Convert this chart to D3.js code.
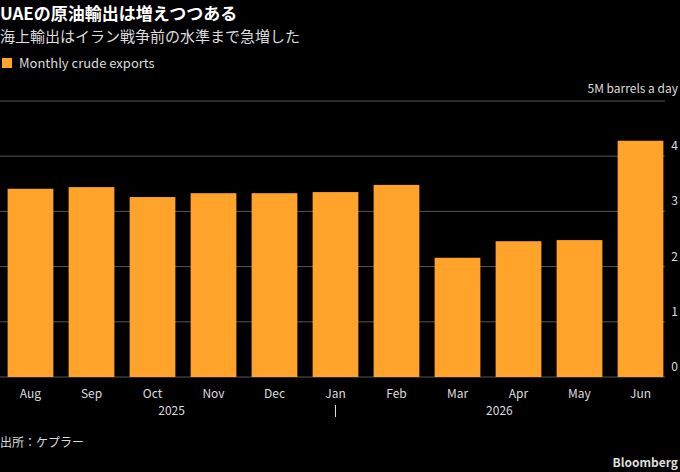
<!DOCTYPE html><html><head><meta charset="utf-8">
<script src="https://cdn.jsdelivr.net/npm/d3@7"></script>
<style>body{margin:0;background:#000}text{font-family:"Noto Sans CJK JP","Noto Sans",sans-serif}</style></head><body>
<svg id="c" width="680" height="472"></svg>
<script>
const months=["Aug","Sep","Oct","Nov","Dec","Jan","Feb","Mar","Apr","May","Jun"];
const exportsM=[3.41,3.44,3.26,3.33,3.33,3.35,3.48,2.16,2.46,2.48,4.28];
const yTicks=[0,1,2,3,4];
const years=["2025","2026"];
const svg=d3.select("#c");
svg.append("rect").attr("width",680).attr("height",472).attr("fill","#000");
const x=d3.scaleBand().domain(months).range([0,671]).paddingInner(0.25).paddingOuter(0.125);
const y=d3.scaleLinear().domain([0,5]).range([377,101]);
svg.append("g").selectAll("line").data([...yTicks,5]).join("line")
 .attr("x1",0).attr("x2",665).attr("y1",d=>y(d)).attr("y2",d=>y(d)).attr("stroke","#555").attr("stroke-width",1);
svg.append("g").selectAll("rect").data(exportsM).join("rect")
 .attr("x",(d,i)=>x(months[i])).attr("width",x.bandwidth()).attr("y",d=>y(d)).attr("height",d=>y(0)-y(d)).attr("fill","#ffa32b");
svg.append("g").selectAll("text").data(yTicks).join("text")
 .attr("x",678).attr("y",d=>y(d)-6).attr("text-anchor","end").attr("fill","#ddd").attr("font-size",12).text(d=>d);
svg.append("text").attr("x",678).attr("y",93).attr("text-anchor","end").attr("fill","#ddd").attr("font-size",12).text("5M barrels a day");
svg.append("g").selectAll("text").data(months).join("text")
 .attr("x",d=>x(d)+x.bandwidth()/2).attr("y",398).attr("text-anchor","middle").attr("fill","#ddd").attr("font-size",12).text(d=>d);
const janX=x("Jan")+x.bandwidth()/2;
const yearPos=[(x("Aug")+janX)/2,(janX+x("Jun")+x.bandwidth())/2];
svg.append("g").selectAll("text").data(years).join("text")
 .attr("x",(d,i)=>yearPos[i]).attr("y",415).attr("text-anchor","middle").attr("fill","#ddd").attr("font-size",12).text(d=>d);
svg.append("line").attr("x1",janX).attr("x2",janX).attr("y1",405).attr("y2",417).attr("stroke","#ddd");
svg.append("text").attr("x",0).attr("y",20).attr("fill","#fff").attr("font-size",17).attr("font-weight","bold").text("UAEの原油輸出は増えつつある");
svg.append("text").attr("x",0).attr("y",42).attr("fill","#ddd").attr("font-size",15).text("海上輸出はイラン戦争前の水準まで急増した");
svg.append("rect").attr("x",2).attr("y",58).attr("width",10).attr("height",10).attr("fill","#ffa32b");
svg.append("text").attr("x",19).attr("y",68).attr("fill","#ddd").attr("font-size",13).text("Monthly crude exports");
svg.append("text").attr("x",0).attr("y",447).attr("fill","#ddd").attr("font-size",12).text("出所：ケプラー");
svg.append("text").attr("x",678).attr("y",467).attr("text-anchor","end").attr("fill","#ddd").attr("font-size",12).attr("font-weight","bold").text("Bloomberg");
</script></body></html>
